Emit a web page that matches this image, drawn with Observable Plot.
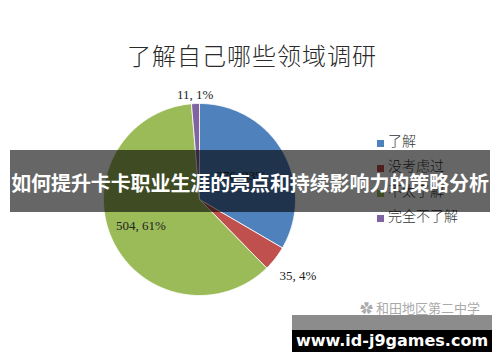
<!DOCTYPE html>
<html><head><meta charset="utf-8">
<script src="https://cdn.jsdelivr.net/npm/d3@7"></script>
<script src="https://cdn.jsdelivr.net/npm/@observablehq/plot@0.6"></script>
<style>
body{margin:0;background:#fff;}
#wrap{position:relative;width:500px;height:362px;overflow:hidden;background:#fff;font-family:"Noto Sans CJK SC",sans-serif;}
#chart{position:absolute;left:0;top:0;}
.abs{position:absolute;white-space:nowrap;}
#title{left:0;width:504px;top:38px;text-align:center;font-size:24px;color:#2a2a2a;letter-spacing:1px;line-height:34px;font-weight:300;}
.leg{left:377px;font-size:14px;color:#333;line-height:18px;font-weight:300;}
.leg i{display:inline-block;width:7px;height:7px;margin-right:4px;vertical-align:-1px;}
#banner{left:10px;top:150px;width:480px;height:62px;background:rgba(0,0,0,0.6);color:#fff;font-weight:bold;font-size:20px;line-height:66px;text-align:center;letter-spacing:-0.1px;}
#wm{left:360px;top:298px;font-size:13px;color:#aaa;}
#gray{left:292px;top:315px;width:200px;height:15px;background:rgba(0,0,0,0.45);}
#url{left:292px;top:330px;width:200px;height:22px;background:#000;color:#fff;font-family:"DejaVu Sans",sans-serif;font-weight:bold;font-size:16px;line-height:22px;text-align:center;}
</style></head>
<body><div id="wrap"><div id="chart"></div></div>
<script>
// data
const categories = ["了解", "没考虑过", "不太了解", "完全不了解"];
const counts = [276, 35, 504, 11];
const percents = ["33%", "4%", "61%", "1%"];
const colors = ["#4F81BD", "#C0504D", "#9BBB59", "#8064A2"];
const labelRadius = [0.5, 1.3, 0.67, 1.09];
const titleText = "了解自己哪些领域调研";

const arcs = d3.pie().sort(null).value(d => d)(counts);
const slicePts = [];
const labels = [];
arcs.forEach((a, i) => {
  const n = Math.max(4, Math.ceil((a.endAngle - a.startAngle) / 0.02));
  slicePts.push({name: categories[i], x: 0, y: 0});
  for (let k = 0; k <= n; k++) {
    const t = a.startAngle + (a.endAngle - a.startAngle) * k / n;
    slicePts.push({name: categories[i], x: Math.sin(t), y: Math.cos(t)});
  }
  slicePts.push({name: categories[i], x: 0, y: 0});
  const m = (a.startAngle + a.endAngle) / 2, r = labelRadius[i];
  labels.push({x: r * Math.sin(m), y: r * Math.cos(m), text: `${counts[i]}, ${percents[i]}`});
});

const plot = Plot.plot({
  width: 500, height: 362,
  marginLeft: 0, marginRight: 0, marginTop: 0, marginBottom: 0,
  x: {domain: [-1, 1], range: [103, 295], axis: null},
  y: {domain: [-1, 1], range: [295, 103], axis: null},
  color: {domain: categories, range: colors},
  style: {background: "transparent", overflow: "visible"},
  marks: [
    Plot.line(slicePts, {x: "x", y: "y", z: "name", fill: "name", stroke: "#fff", strokeWidth: 0.8, curve: "linear"}),
    Plot.text(labels, {x: "x", y: "y", text: "text", fontFamily: "Liberation Serif", fontSize: 13, fill: "#222"})
  ]
});
const wrap = document.getElementById("wrap");
document.getElementById("chart").appendChild(plot);

function add(id, cls, html, style) {
  const d = document.createElement("div");
  if (id) d.id = id;
  d.className = "abs " + (cls || "");
  d.innerHTML = html;
  if (style) Object.assign(d.style, style);
  wrap.appendChild(d);
}
add("title", "", titleText);
const legTops = [131, 156, 181, 206];
categories.forEach((c, i) => add(null, "leg", `<i style="background:${colors[i]}"></i>${c}`, {top: legTops[i] + "px"}));
add("banner", "", "如何提升卡卡职业生涯的亮点和持续影响力的策略分析");
add("wm", "", "✿ 和田地区第二中学");
add("gray", "", "");
add("url", "", "www.id-j9games.com");
</script></body></html>
